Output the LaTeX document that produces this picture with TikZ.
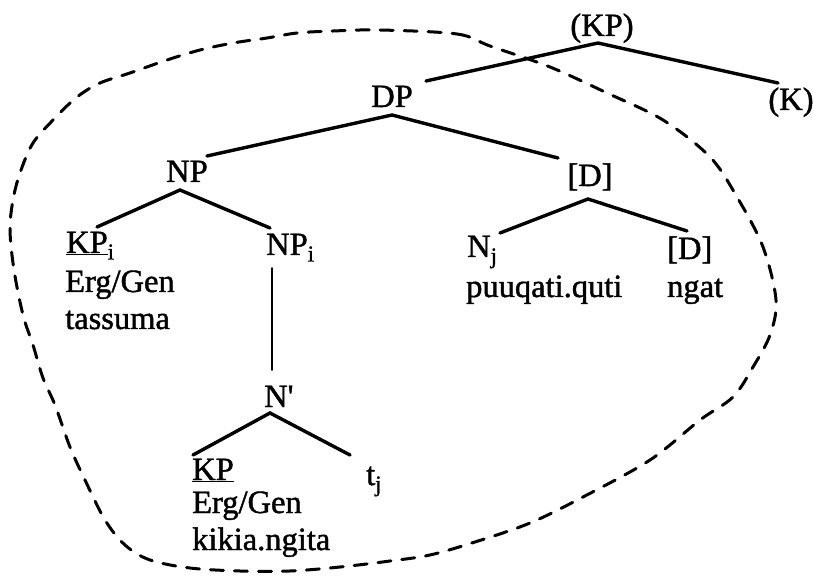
\documentclass[tikz,border=0pt]{standalone}
\usepackage{fontspec}
\setmainfont{Liberation Serif}
\newfontfamily\scanfont{Liberation Serif}[FakeBold=1.3]
\begin{document}
\begin{tikzpicture}[x=1pt,y=-1pt,
  lbl/.style={inner sep=0pt, font=\scanfont\fontsize{32.5}{38}\selectfont},
  branch/.style={line width=3.4pt, line cap=round},
  unary/.style={line width=1.9pt, line cap=round},
  ring/.style={line width=3pt, dash pattern=on 13pt off 11pt, line cap=round}]
\useasboundingbox (0,0) rectangle (814,585);

% labels
\node[lbl,anchor=base] (KPt) at (602,36) {(KP)};
\node[lbl,anchor=base] (DP) at (392,107) {DP};
\node[lbl,anchor=base] (K) at (791,110) {(K)};
\node[lbl,anchor=base] (NP) at (187,182) {NP};
\node[lbl,anchor=base] (D1) at (590,186) {[D]};
\node[lbl,anchor=base west] (KPi) at (66,253) {\underline{KP}\textsubscript{i}};
\node[lbl,anchor=base west] (eg1) at (65,292) {Erg/Gen};
\node[lbl,anchor=base west] (tas) at (65,329) {tassuma};
\node[lbl,anchor=base west] (NPi) at (266,255) {NP\textsubscript{i}};
\node[lbl,anchor=base west] (Nj) at (467,257) {N\textsubscript{j}};
\node[lbl,anchor=base west] (puu) at (466,297) {puuqati.quti};
\node[lbl,anchor=base west] (D2) at (667,259) {[D]};
\node[lbl,anchor=base west] (ngat) at (667,297) {ngat};
\node[lbl,anchor=base west] (Nbar) at (264,407) {N\textquotesingle};
\node[lbl,anchor=base west] (KP2) at (192,480) {\underline{KP}};
\node[lbl,anchor=base west] (eg2) at (192,513) {Erg/Gen};
\node[lbl,anchor=base west] (kik) at (192,550) {kikia.ngita};
\node[lbl,anchor=base west] (tj) at (366,485) {t\textsubscript{j}};

% branches
\draw[branch] ([shift={(34pt,26pt)}]DP.base) -- ([shift={(-4pt,-7pt)}]KPt.base) -- ([shift={(-13pt,27pt)}]K.base);
\draw[branch] ([shift={(20pt,26pt)}]NP.base) -- ([shift={(0pt,-8pt)}]DP.base) -- ([shift={(-32pt,28pt)}]D1.base);
\draw[branch] ([shift={(31pt,26pt)}]KPi.base west) -- ([shift={(-7pt,-8pt)}]NP.base) -- ([shift={(4pt,27pt)}]NPi.base west);
\draw[branch] ([shift={(33pt,24pt)}]Nj.base west) -- ([shift={(-2pt,-13pt)}]D1.base) -- ([shift={(20pt,28pt)}]D2.base west);
\draw[unary] ([shift={(6pt,-13pt)}]NPi.base west) -- ([shift={(8pt,37pt)}]Nbar.base west);
\draw[branch] ([shift={(1pt,25pt)}]KP2.base west) -- ([shift={(6pt,-6pt)}]Nbar.base west) -- ([shift={(-16pt,30pt)}]tj.base west);

% dashed enclosure
\draw[ring] plot[smooth cycle, tension=0.55] coordinates {
  (380,30) (457,34) (490,46) (550,67) (607,93) (663,120) (710,157) (737,197)
  (763,247) (776,300) (770,335) (753,367) (733,397) (700,420) (650,460)
  (583,497) (530,523) (475,542) (430,555) (390,561) (340,567) (290,571)
  (240,571) (190,568) (150,560) (125,545) (105,520) (85,480) (70,447)
  (55,405) (43,378) (33,345) (23,315) (14,270) (10,230) (13,200) (20,173)
  (33,143) (55,118) (77,97) (100,83) (130,73) (167,60) (200,50) (233,43)
  (267,38) (297,33) (333,31)};
\end{tikzpicture}
\end{document}
